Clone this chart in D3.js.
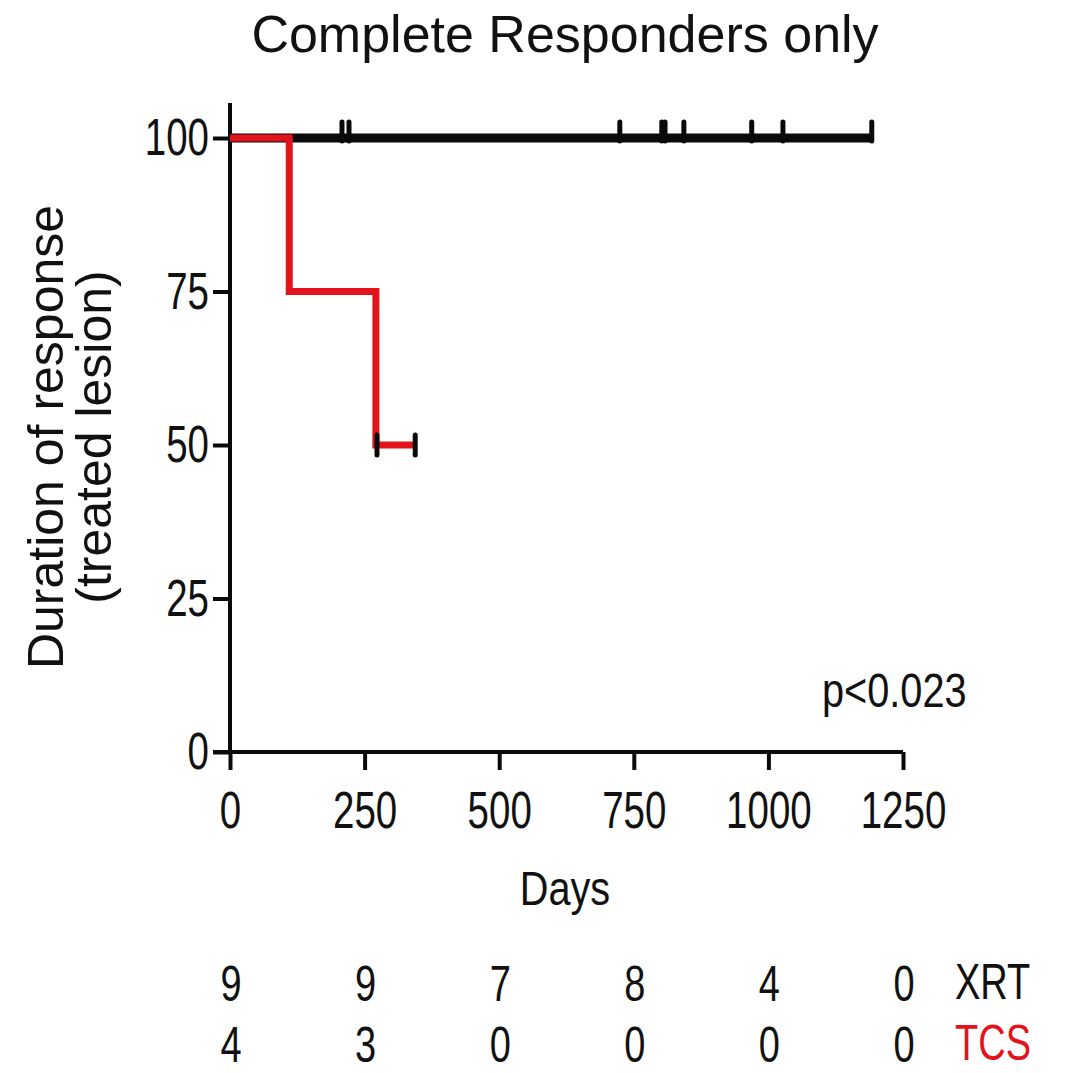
<!DOCTYPE html>
<html>
<head>
<meta charset="utf-8">
<script src="https://cdn.jsdelivr.net/npm/d3@7"></script>
<style>
  html, body { margin: 0; padding: 0; background: #fff; }
  svg { display: block; }
  text { font-family: "Liberation Sans", Arial, sans-serif; fill: #111; }
</style>
</head>
<body>
<svg id="chart" width="1069" height="1073"></svg>
<script>
// Kaplan-Meier step points (days, % still in response)
const xrtDays = [0, 1192];
const xrtPct  = [100, 100];
const tcsDays = [0, 110, 271, 344];
const tcsPct  = [100, 75, 50, 50];

// Censored observations (days)
const xrtCensorDays = [208, 221, 724, 802, 808, 843, 969, 1027, 1192];
const xrtCensorPct  = [100, 100, 100, 100, 100, 100, 100, 100, 100];
const tcsCensorDays = [273, 344];
const tcsCensorPct  = [50, 50];

// Axis ticks
const xTicks = [0, 250, 500, 750, 1000, 1250];
const yTicks = [0, 25, 50, 75, 100];

// Numbers at risk
const riskDays = [0, 250, 500, 750, 1000, 1250];
const xrtRisk  = [9, 9, 7, 8, 4, 0];
const tcsRisk  = [4, 3, 0, 0, 0, 0];
const groupNames = ["XRT", "TCS"];

const RED = "#e3131b";
const BLACK = "#0a0a0a";

const svg = d3.select("#chart");

const x = d3.scaleLinear().domain([0, 1250]).range([230, 903]);
const y = d3.scaleLinear().domain([0, 105.7]).range([752, 103]);

const narrow = 0.74;   // horizontal squeeze used for numeric labels

// Title
svg.append("text")
  .attr("x", 565).attr("y", 52)
  .attr("text-anchor", "middle")
  .style("font-size", "52px")
  .text("Complete Responders only");

// Y axis title (two lines)
const yTitle = svg.append("g").attr("transform", "translate(0,437) rotate(-90)");
yTitle.append("text").attr("x", 0).attr("y", 63)
  .attr("text-anchor", "middle").style("font-size", "50px")
  .text("Duration of response");
yTitle.append("text").attr("x", 0).attr("y", 111)
  .attr("text-anchor", "middle").style("font-size", "50px")
  .text("(treated lesion)");

// Axes
const yAxis = d3.axisLeft(y).tickValues(yTicks).tickSize(17).tickPadding(4)
  .tickSizeOuter(0).tickFormat(d3.format("d"));
const xAxis = d3.axisBottom(x).tickValues(xTicks).tickSize(18).tickPadding(21)
  .tickSizeOuter(0).tickFormat(d3.format("d"));

const gy = svg.append("g").attr("transform", `translate(${x(0)},0)`).call(yAxis);
const gx = svg.append("g").attr("transform", `translate(0,${y(0)})`).call(xAxis);

[gx, gy].forEach(g => {
  g.select(".domain").attr("stroke", BLACK).attr("stroke-width", 4);
  g.selectAll(".tick line").attr("stroke", BLACK).attr("stroke-width", 4);
  g.selectAll(".tick text")
    .attr("fill", "#111")
    .style("font-family", '"Liberation Sans", Arial, sans-serif')
    .style("font-size", "52px");
});
// squeeze tick labels horizontally, keeping their anchor positions
gy.selectAll(".tick text").each(function () {
  const t = d3.select(this);
  const xv = +t.attr("x");
  t.attr("x", xv / narrow).attr("transform", `scale(${narrow},1)`);
});
gx.selectAll(".tick text").attr("transform", `scale(${narrow},1)`);
// y domain line extends to the full axis height
gy.select(".domain").attr("d", `M0,${y(0)}V${y(105.7)}`);
// horizontal axis continues left to meet the zero tick
gx.select(".domain").attr("d", `M${x(0) - 17},0H${x(1250)}`);

// Survival curves
const line = d3.line()
  .x(d => x(d[0]))
  .y(d => y(d[1]))
  .curve(d3.curveStepAfter);

svg.append("path")
  .datum(d3.zip(xrtDays, xrtPct))
  .attr("d", line)
  .attr("fill", "none")
  .attr("stroke", BLACK)
  .attr("stroke-width", 9);

svg.append("path")
  .datum(d3.zip(tcsDays, tcsPct))
  .attr("d", line)
  .attr("fill", "none")
  .attr("stroke", RED)
  .attr("stroke-width", 7);

// Censor ticks
svg.append("g").selectAll("line")
  .data(d3.zip(xrtCensorDays, xrtCensorPct))
  .join("line")
  .attr("x1", d => x(d[0])).attr("x2", d => x(d[0]))
  .attr("y1", d => y(d[1]) + 3).attr("y2", d => y(d[1]) - 16)
  .attr("stroke", BLACK).attr("stroke-width", 5)
  .attr("stroke-linecap", "round");

svg.append("g").selectAll("line")
  .data(d3.zip(tcsCensorDays, tcsCensorPct))
  .join("line")
  .attr("x1", d => x(d[0])).attr("x2", d => x(d[0]))
  .attr("y1", d => y(d[1]) - 10).attr("y2", d => y(d[1]) + 10)
  .attr("stroke", BLACK).attr("stroke-width", 5)
  .attr("stroke-linecap", "round");

// p-value
svg.append("text")
  .attr("transform", `translate(822,707) scale(0.81,1)`)
  .style("font-size", "49px")
  .text("p<0.023");

// X axis title
svg.append("text")
  .attr("transform", `translate(565,905) scale(0.81,1)`)
  .attr("text-anchor", "middle")
  .style("font-size", "49px")
  .text("Days");

// Numbers at risk table
const rows = [
  { name: groupNames[0], values: xrtRisk, color: "#111", base: 1001 },
  { name: groupNames[1], values: tcsRisk, color: RED,   base: 1062 }
];
rows.forEach(r => {
  const g = svg.append("g");
  g.selectAll("text.n")
    .data(d3.zip(riskDays, r.values))
    .join("text")
    .attr("class", "n")
    .attr("transform", d => `translate(${x(d[0]) + 1},${r.base}) scale(0.76,1)`)
    .attr("text-anchor", "middle")
    .style("font-size", "50px")
    .text(d => d[1]);
  g.append("text")
    .attr("transform", `translate(955,${r.base - 2}) scale(0.76,1)`)
    .style("font-size", "50px")
    .style("fill", r.color)
    .text(r.name);
});
</script>
</body>
</html>
